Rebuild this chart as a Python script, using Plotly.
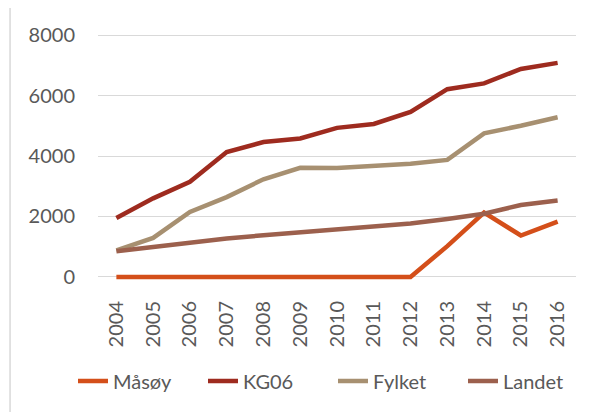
import plotly.graph_objects as go

years = [str(y) for y in range(2004, 2017)]

masoy = [0, 0, 0, 0, 0, 0, 0, 0, 0, 1020, 2130, 1370, 1830]
kg06 = [1950, 2600, 3150, 4130, 4460, 4580, 4930, 5060, 5460, 6210, 6400, 6880, 7080]
fylket = [880, 1290, 2150, 2640, 3230, 3610, 3600, 3660, 3740, 3870, 4750, 5000, 5280]
landet = [850, 1000, 1130, 1270, 1380, 1480, 1590, 1680, 1770, 1920, 2090, 2380, 2530]

series = [
    ("Måsøy", masoy, "#D44F1A"),
    ("KG06", kg06, "#9E2B1F"),
    ("Fylket", fylket, "#A79071"),
    ("Landet", landet, "#9C604D"),
]

fig = go.Figure()
for name, vals, color in series:
    fig.add_trace(go.Scatter(
        x=years, y=vals, name=name, mode="lines",
        line=dict(color=color, width=4.5),
    ))

# page body has an 8px margin, so the figure is a bit smaller than the window
fig.update_layout(
    width=585, height=404,
    margin=dict(l=90, r=17, t=21, b=129),
    paper_bgcolor="white", plot_bgcolor="white",
    font=dict(family="Lato", size=20, color="#595959"),
    showlegend=True,
    legend=dict(orientation="h", x=-0.019, xanchor="left", y=-0.386, yanchor="middle",
                font=dict(size=20, color="#595959"), itemwidth=30, tracegroupgap=0,
                entrywidth=85, entrywidthmode="pixels"),
    shapes=[dict(type="rect", xref="paper", yref="paper",
                 x0=-0.184, x1=1.2, y0=-0.7, y1=1.0906,
                 line=dict(color="#D9D9D9", width=1.5), fillcolor="rgba(0,0,0,0)", layer="below")],
)
fig.update_xaxes(type="category", range=[-0.5, 12.5], showgrid=False, showline=False,
                 tickangle=-90, ticks="", ticklabelstandoff=13, tickfont=dict(size=20))
fig.update_yaxes(range=[-200, 8200], tickvals=[0, 2000, 4000, 6000, 8000], showgrid=True,
                 gridcolor="#D9D9D9", gridwidth=1.3, zeroline=False, showline=False,
                 ticks="", ticklabelstandoff=22, tickfont=dict(size=20))

fig.write_html("out.html")
